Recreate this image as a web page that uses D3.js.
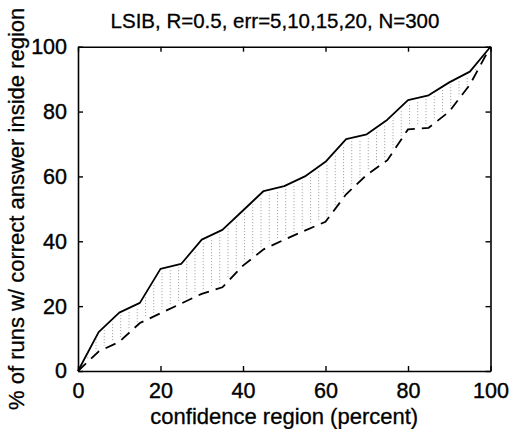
<!DOCTYPE html>
<html>
<head>
<meta charset="utf-8">
<script src="https://cdn.jsdelivr.net/npm/d3@7"></script>
<style>
  html, body { margin: 0; padding: 0; background: #fff; }
  svg { display: block; font-family: "Liberation Sans", Arial, Helvetica, sans-serif; }
</style>
</head>
<body>
<script>
// ---- data ----
const confidence = [0,5,10,15,20,25,30,35,40,45,50,55,60,65,70,75,80,85,90,95,100];
const upperSeries = [0,12,18,21,31.5,33,40.5,43.5,49.5,55.5,57,60,64.5,71.5,73,77.5,83.5,85,89,92.3,100];
const lowerSeries = [0,6,9,14.8,17.8,20.8,23.8,25.8,32.5,37.5,40.5,43.3,46,54.5,60.5,65,74.5,75,80,88.3,100];
const xTicks = [0,20,40,60,80,100];
const yTicks = [0,20,40,60,80,100];
const titleText = "LSIB, R=0.5, err=5,10,15,20, N=300";
const xLabel = "confidence region (percent)";
const yLabel = "% of runs w/ correct answer inside region";

const W = 509, H = 429;
const m = {left: 78, right: 18.5, top: 46.7, bottom: 58};
const svg = d3.select("body").append("svg").attr("width", W).attr("height", H);

const x = d3.scaleLinear().domain([0,100]).range([m.left, W - m.right]);
const y = d3.scaleLinear().domain([0,100]).range([H - m.bottom, m.top]);

const pts = confidence.map((c,i) => ({c, u: upperSeries[i], l: lowerSeries[i]}));

// hatch pattern (dotted vertical columns)
const defs = svg.append("defs");
const pw = x(2) - x(0);
const pat = defs.append("pattern").attr("id","hatch").attr("patternUnits","userSpaceOnUse")
  .attr("x", x(0) + 1).attr("y", 0).attr("width", pw).attr("height", 3);
pat.append("rect").attr("x",0).attr("y",0).attr("width",1).attr("height",1.2).attr("fill","#a8a8a8");

const area = d3.area().x(d => x(d.c)).y0(d => y(d.l) - 3).y1(d => y(d.u) + 3);
svg.append("path").datum(pts).attr("d", area).attr("fill","url(#hatch)");

// lines
const lineU = d3.line().x(d => x(d.c)).y(d => y(d.u));
const lineL = d3.line().x(d => x(d.c)).y(d => y(d.l));
svg.append("path").datum(pts).attr("d", lineU).attr("fill","none").attr("stroke","#000").attr("stroke-width",1.8).attr("stroke-linejoin","round");
svg.append("path").datum(pts).attr("d", lineL).attr("fill","none").attr("stroke","#000").attr("stroke-width",1.8).attr("stroke-dasharray","11,7");

// axes (matlab box with inward ticks)
const tl = 5;
const gB = svg.append("g").attr("transform",`translate(0,${y(0)})`)
  .call(d3.axisBottom(x).tickValues(xTicks).tickSizeInner(-tl).tickSizeOuter(0).tickPadding(12).tickFormat(d3.format("d")));
const gT = svg.append("g").attr("transform",`translate(0,${y(100)})`)
  .call(d3.axisTop(x).tickValues(xTicks).tickSizeInner(-tl).tickSizeOuter(0).tickFormat(""));
const gL = svg.append("g").attr("transform",`translate(${x(0)},0)`)
  .call(d3.axisLeft(y).tickValues(yTicks).tickSizeInner(-tl).tickSizeOuter(0).tickPadding(11).tickFormat(d3.format("d")));
const gR = svg.append("g").attr("transform",`translate(${x(100)},0)`)
  .call(d3.axisRight(y).tickValues(yTicks).tickSizeInner(-tl).tickSizeOuter(0).tickFormat(""));
[gB,gT,gL,gR].forEach(g => {
  g.select(".domain").attr("stroke","#000").attr("stroke-width",1.6);
  g.selectAll(".tick line").attr("stroke","#000").attr("stroke-width",1.4);
  g.selectAll(".tick text").attr("fill","#000").attr("stroke","#000").attr("stroke-width",0.4)
    .style("font-size","21.5px").style("font-family",'"Liberation Sans", Arial, sans-serif');
});
gB.selectAll(".tick text").attr("dy","0.71em");

// title and labels
svg.append("text").attr("x", 275).attr("y", 28).attr("text-anchor","middle")
  .style("font-size","20.5px").attr("fill","#000").attr("stroke","#000").attr("stroke-width",0.3).text(titleText);
svg.append("text").attr("x", (x(0)+x(100))/2).attr("y", 424).attr("text-anchor","middle")
  .style("font-size","22px").attr("fill","#000").attr("stroke","#000").attr("stroke-width",0.3).text(xLabel);
svg.append("text").attr("transform",`translate(24,${(y(0)+y(100))/2}) rotate(-90)`).attr("text-anchor","middle")
  .style("font-size","22px").attr("fill","#000").attr("stroke","#000").attr("stroke-width",0.3).text(yLabel);
</script>
</body>
</html>
